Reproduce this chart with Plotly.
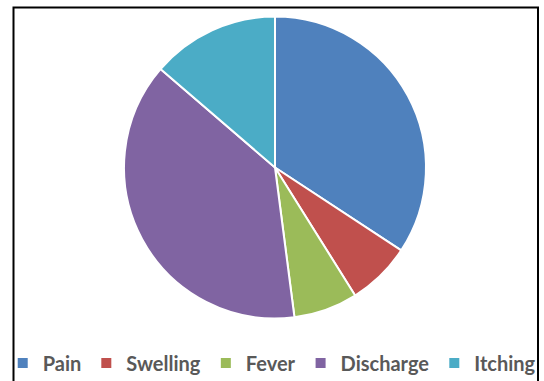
import plotly.graph_objects as go

# Symptom counts
symptoms = ["Pain", "Swelling", "Fever", "Discharge", "Itching"]
counts = [25, 5, 5, 28, 10]
colors = ["#4F81BD", "#C0504D", "#9BBB59", "#8064A2", "#4BACC6"]

W, H = 544, 381
cx, cy, r = 275, 167.5, 151

fig = go.Figure(
    go.Pie(
        labels=symptoms,
        values=counts,
        sort=False,
        direction="clockwise",
        rotation=0,
        textinfo="none",
        marker=dict(colors=colors, line=dict(color="white", width=2)),
        domain=dict(
            x=[(cx - r) / W, (cx + r) / W],
            y=[(H - cy - r) / H, (H - cy + r) / H],
        ),
    )
)

# Chart frame
fig.add_shape(
    type="rect", xref="paper", yref="paper",
    x0=13.5 / W, x1=538 / W, y0=-0.1, y1=1 - 7.5 / H,
    line=dict(color="black", width=2), layer="above",
)

fig.update_layout(
    width=W, height=H,
    margin=dict(l=0, r=0, t=0, b=0, autoexpand=False),
    paper_bgcolor="white",
    plot_bgcolor="white",
    showlegend=True,
    legend=dict(
        orientation="h",
        x=0.005, xanchor="left",
        y=1 - 363 / H, yanchor="middle",
        font=dict(family="Lato", size=20, color="#595959", weight="bold"),
        bgcolor="rgba(0,0,0,0)",
        itemclick=False,
    ),
)

fig.write_html("out.html")
